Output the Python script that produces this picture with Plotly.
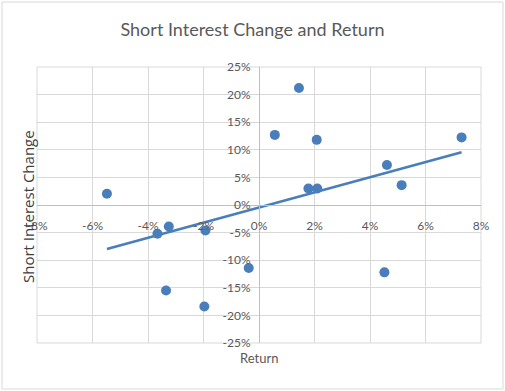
import numpy as np
import plotly.graph_objects as go

# Data (percent units)
returns = [-5.48, -3.66, -3.25, -1.93, -0.37, -3.35, -1.97, 1.44, 0.57, 2.08, 7.30, 4.61, 5.14, 1.78, 2.10, 4.52]
si_change = [2.05, -5.2, -3.9, -4.6, -11.4, -15.5, -18.4, 21.2, 12.7, 11.8, 12.25, 7.25, 3.6, 3.0, 3.0, -12.2]
x_ticks = [-8, -6, -4, -2, 0, 2, 4, 6, 8]
x_tick_labels = ["-8%", "-6%", "-4%", "-2%", "0%", "2%", "4%", "6%", "8%"]
y_ticks = [-25, -20, -15, -10, -5, 0, 5, 10, 15, 20, 25]
y_tick_labels = ["-25%", "-20%", "-15%", "-10%", "-5%", "0%", "5%", "10%", "15%", "20%", "25%"]

title = "Short Interest Change and Return"
x_title = "Return"
y_title = "Short Interest Change"

slope, intercept = np.polyfit(returns, si_change, 1)
tx = np.array([min(returns), max(returns)])
ty = slope * tx + intercept

blue = "#4a7ebb"
txt = "#595959"
grid = "#d9d9d9"
font = "Lato"

fig = go.Figure()
fig.add_trace(go.Scatter(x=returns, y=si_change, mode="markers",
                         marker=dict(color=blue, size=10), showlegend=False))
fig.add_trace(go.Scatter(x=tx, y=ty, mode="lines",
                         line=dict(color=blue, width=2.5), showlegend=False))

L, R, T, B = 37, 24, 67, 48
W, H = 505, 391
pw, ph = W - L - R, H - T - B

fig.update_layout(
    width=W, height=H,
    margin=dict(l=L, r=R, t=T, b=B),
    paper_bgcolor="white", plot_bgcolor="white",
    font=dict(family=font, color=txt, size=12),
    title=dict(text=title, x=0.5, xanchor="center", y=1 - 30 / H, yanchor="middle",
               font=dict(size=18, color=txt, family=font)),
    xaxis=dict(range=[-8, 8], tickvals=x_ticks, ticktext=x_tick_labels,
               showgrid=True, gridcolor=grid, gridwidth=1,
               zeroline=False, showline=True, linecolor="#bfbfbf", linewidth=1,
               anchor="free", position=0.5, ticks="", ticklabelstandoff=10,
               tickfont=dict(size=12, color=txt)),
    yaxis=dict(range=[-25, 25], tickvals=y_ticks, ticktext=y_tick_labels,
               showgrid=True, gridcolor=grid, gridwidth=1,
               zeroline=False, showline=True, linecolor="#bfbfbf", linewidth=1,
               anchor="free", position=0.5, ticks="", ticklabelstandoff=6,
               tickfont=dict(size=12, color=txt)),
    annotations=[
        dict(text=x_title, xref="paper", yref="paper", x=0.5, y=-15 / ph,
             xanchor="center", yanchor="middle", showarrow=False,
             font=dict(size=13, color=txt)),
        dict(text=y_title, xref="paper", yref="paper", x=-9 / pw, y=0.5 - 2 / ph,
             xanchor="center", yanchor="middle", showarrow=False, textangle=-90,
             font=dict(size=15, color="#404040", family="Open Sans")),
    ],
    shapes=[
        dict(type="rect", xref="paper", yref="paper", layer="below",
             x0=-(L - 2) / pw, x1=1 + (R - 2) / pw, y0=-(B - 2) / ph, y1=1 + (T - 2) / ph,
             line=dict(color="#d9d9d9", width=1)),
        dict(type="rect", xref="paper", yref="paper", layer="below",
             x0=0, x1=1, y0=0, y1=1, line=dict(color=grid, width=1)),
    ],
)

fig.write_html("out.html", config={"displayModeBar": False},
               post_script="document.body.style.margin='0';")
